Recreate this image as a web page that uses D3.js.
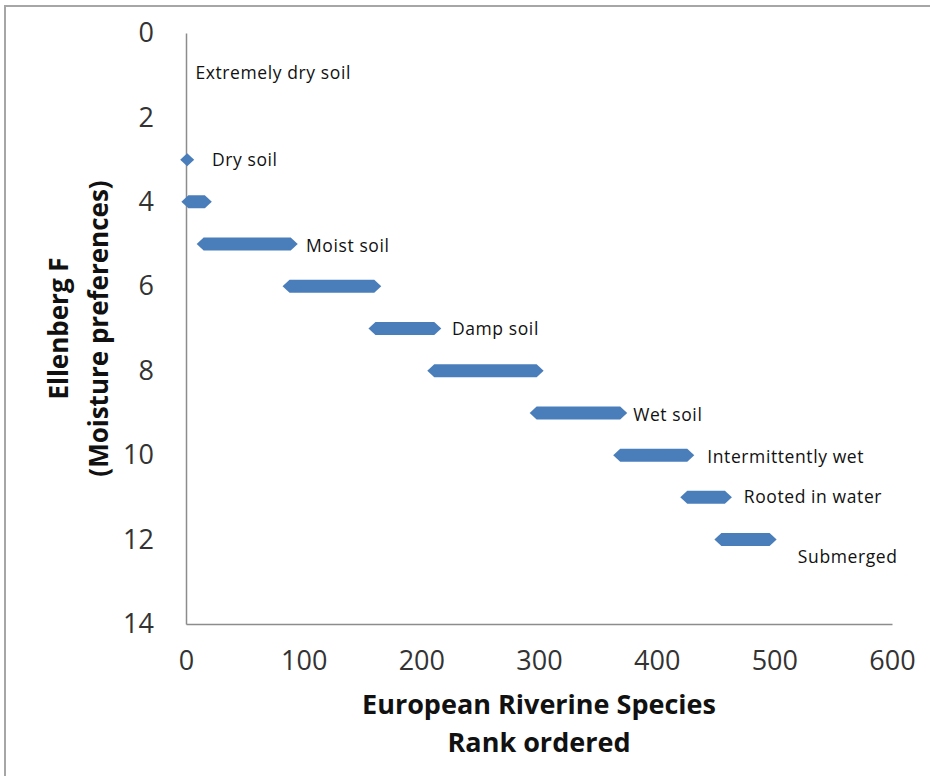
<!DOCTYPE html>
<html lang="en">
<head>
    <meta charset="UTF-8">
    <title>Ellenberg F by rank</title>
    <script src="https://d3js.org/d3.v7.min.js"></script>
    <style>
        body {
            margin: 0;
            background: #fff;
            font-family: "Open Sans", Arial, sans-serif;
        }
        svg {
            display: block;
        }
        .tick-label {
            font-family: "Open Sans", Arial, sans-serif;
            font-size: 27px;
            fill: #333;
        }
        .axis-title {
            font-weight: bold;
            fill: #111;
        }
        .zone-label {
            font-size: 17.5px;
            letter-spacing: 0.6px;
            fill: #111;
        }
    </style>
</head>
<body>
    <svg width="930" height="776"></svg>

    <script>
        // Ellenberg F bands: first and last species rank at each moisture value
        const fValues  = [3, 4, 5, 6, 7, 8, 9, 10, 11, 12];
        const rankFrom = [1, 2, 15, 88, 161, 211, 298, 369, 426, 455];
        const rankTo   = [1, 16, 89, 160, 211, 298, 369, 426, 458, 496];

        // zone annotations (rank, F)
        const zoneNames = ["Extremely dry soil", "Dry soil", "Moist soil", "Damp soil", "Wet soil",
                           "Intermittently wet", "Rooted in water", "Submerged"];
        const zoneRank = [8, 22, 102, 226, 380, 443, 474, 520];
        const zoneF    = [0.95, 3, 5.05, 7, 9.05, 10.05, 11, 12.4];

        const xTicks = [0, 100, 200, 300, 400, 500, 600];
        const yTicks = [0, 2, 4, 6, 8, 10, 12, 14];

        const width = 930;
        const height = 776;
        const margin = { top: 33, right: 38, bottom: 152, left: 186 };

        const svg = d3.select("svg");

        // outer chart border
        svg.append("rect")
            .attr("x", 5)
            .attr("y", 6)
            .attr("width", width + 10)
            .attr("height", height + 10)
            .attr("fill", "none")
            .attr("stroke", "#a6a6a6")
            .attr("stroke-width", 2);

        const x = d3.scaleLinear()
            .domain([0, 600])
            .range([margin.left, width - margin.right]);

        // F runs downward
        const y = d3.scaleLinear()
            .domain([0, 14])
            .range([margin.top, height - margin.bottom]);

        // X axis
        const xAxis = svg.append("g")
            .attr("transform", `translate(0, ${y(14)})`)
            .call(d3.axisBottom(x).tickValues(xTicks).tickSize(0).tickPadding(27));
        xAxis.attr("font-family", null);
        xAxis.select(".domain").attr("stroke", "#8c8c8c").attr("stroke-width", 1.5);
        xAxis.selectAll("text")
            .attr("class", "tick-label")
            .attr("font-size", null);

        // Y axis
        const yAxis = svg.append("g")
            .attr("transform", `translate(${x(0)}, 0)`)
            .call(d3.axisLeft(y).tickValues(yTicks).tickSize(0).tickPadding(32));
        yAxis.attr("font-family", null);
        yAxis.select(".domain").attr("stroke", "#8c8c8c").attr("stroke-width", 1.5);
        yAxis.selectAll("text")
            .attr("class", "tick-label")
            .attr("font-size", null);

        // bands: a run of diamond markers, drawn as one hexagon per F value
        const hw = 7, hh = 6.5;
        const bands = fValues.map((f, i) => ({ f: f, from: rankFrom[i], to: rankTo[i] }));

        svg.selectAll(".band")
            .data(bands)
            .join("path")
            .attr("class", "band")
            .attr("fill", "#4a7ebb")
            .attr("d", d => {
                const x0 = x(d.from), x1 = x(d.to), cy = y(d.f);
                return `M${x0 - hw},${cy} L${x0},${cy - hh} L${x1},${cy - hh} L${x1 + hw},${cy} ` +
                       `L${x1},${cy + hh} L${x0},${cy + hh} Z`;
            });

        // zone labels
        svg.selectAll(".zone-label")
            .data(zoneNames)
            .join("text")
            .attr("class", "zone-label")
            .attr("x", (d, i) => x(zoneRank[i]))
            .attr("y", (d, i) => y(zoneF[i]))
            .attr("dy", "0.35em")
            .text(d => d);

        // axis titles
        const midY = (y(0) + y(14)) / 2;
        const yTitle = svg.append("text")
            .attr("class", "axis-title")
            .attr("font-size", 26)
            .attr("transform", `translate(68, ${midY}) rotate(-90)`)
            .attr("text-anchor", "middle");
        yTitle.append("tspan").attr("x", 0).attr("dy", "0em").text("Ellenberg F");
        yTitle.append("tspan").attr("x", 0).attr("dy", "1.55em").text("(Moisture preferences)");

        const xTitle = svg.append("text")
            .attr("class", "axis-title")
            .attr("font-size", 27)
            .attr("text-anchor", "middle");
        xTitle.append("tspan").attr("x", (x(0) + x(600)) / 2).attr("y", 714).text("European Riverine Species");
        xTitle.append("tspan").attr("x", (x(0) + x(600)) / 2).attr("y", 752).text("Rank ordered");
    </script>
</body>
</html>
